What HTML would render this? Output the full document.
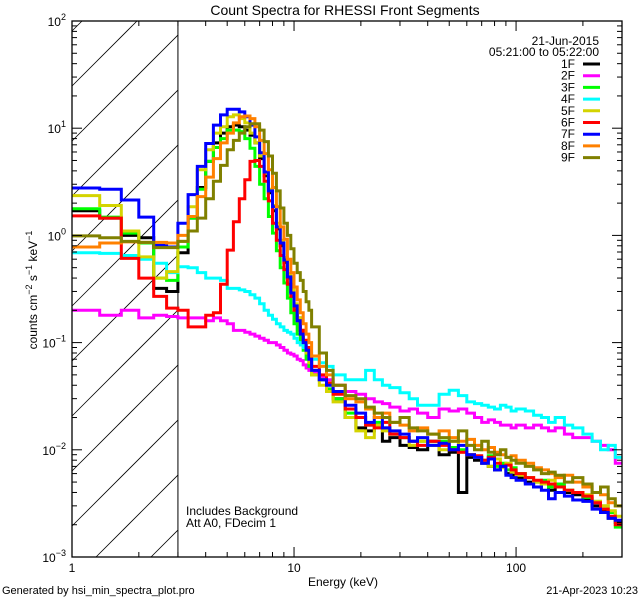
<!DOCTYPE html>
<html><head><meta charset="utf-8"><style>
html,body{margin:0;padding:0;background:#fff;width:640px;height:600px;overflow:hidden;}
svg{display:block;position:absolute;left:0;top:0;font-family:"Liberation Sans","DejaVu Sans",sans-serif;}
</style></head><body>
<svg id="chart" width="640" height="600" viewBox="0 0 640 600" xmlns="http://www.w3.org/2000/svg">
<rect x="0" y="0" width="640" height="600" fill="#fff"/>
<text x="345" y="15" font-size="14" text-anchor="middle">Count Spectra for RHESSI Front Segments</text>
<defs><clipPath id="pclip"><rect x="72" y="21" width="550" height="536"/></clipPath></defs>
<g id="hatch"></g>
<g id="series" clip-path="url(#pclip)"></g>
<g id="axes"></g>
<text x="37" y="290" font-size="12" text-anchor="middle" transform="rotate(-90 37 290)">counts cm<tspan dy="-5" font-size="9">−2</tspan><tspan dy="5"> s</tspan><tspan dy="-5" font-size="9">−1</tspan><tspan dy="5"> keV</tspan><tspan dy="-5" font-size="9">−1</tspan></text>
<text x="343" y="586" font-size="12" text-anchor="middle">Energy (keV)</text>
<text x="186" y="515" font-size="12">Includes Background</text>
<text x="186" y="527" font-size="12">Att A0, FDecim 1</text>
<text x="2" y="594" font-size="11">Generated by hsi_min_spectra_plot.pro</text>
<text x="638" y="594" font-size="11" text-anchor="end">21-Apr-2023 10:23</text>
<text x="599" y="45" font-size="12" text-anchor="end">21-Jun-2015</text>
<text x="599" y="56" font-size="12" text-anchor="end">05:21:00 to 05:22:00</text>
<g id="legend"></g>
</svg>
<script>
const edges = [1,1.333,1.667,2,2.333,2.667,3,
3.333,3.667,4,4.333,4.667,5,5.333,5.667,6,6.333,6.667,7,7.333,7.667,8,8.333,8.667,9,9.333,9.667,10,10.333,10.667,11,11.333,11.667,12,
13,14,15,17,19,21,23,25,27,30,33,36,40,
45,50,55,60,65,70,75,80,85,90,95,100,
110,120,130,140,150,165,180,200,220,240,260,280,300];
const names = ["1F","2F","3F","4F","5F","6F","7F","8F","9F"];
const colors = ["#000000","#ff00ff","#00ff00","#00ffff","#d4d400","#ff0000","#0000ff","#ff8000","#808000"];
const s1F = [1.7,1.45,1.0,0.95,0.32,0.30,
0.69,1.45,2.8,4.9,7.3,9,10.3,10.7,10.3,9.6,8.6,7.3,5.2,3.6,2.5,1.7,1.15,0.8,0.56,0.4,0.3,0.22,0.17,0.13,0.1,0.08,0.07,
0.055,0.045,0.036,0.03,0.02,0.016,0.015,0.017,0.012,0.013,0.011,0.0105,0.01,
0.012,0.009,0.0095,0.004,0.0085,0.008,0.0075,0.007,0.0065,0.0072,0.006,0.0058,
0.0055,0.005,0.0045,0.0048,0.0042,0.0045,0.004,0.0038,0.0035,0.003,0.0027,0.0023,0.0021];
const s2F = [0.2,0.18,0.2,0.17,0.18,0.175,
0.17,0.17,0.17,0.16,0.17,0.16,0.15,0.13,0.13,0.125,0.12,0.115,0.11,0.105,0.1,0.1,0.095,0.09,0.085,0.08,0.078,0.075,0.07,0.068,0.062,0.058,0.055,
0.052,0.048,0.045,0.04,0.035,0.033,0.03,0.028,0.027,0.025,0.023,0.024,0.022,
0.02,0.024,0.023,0.024,0.022,0.02,0.018,0.019,0.018,0.017,0.017,0.016,
0.017,0.016,0.017,0.016,0.015,0.016,0.014,0.013,0.013,0.012,0.011,0.01,0.0075];
const s3F = [1.77,1.48,1.05,0.85,0.40,0.38,
0.78,1.45,2.7,4.9,6.6,8,9.6,9.6,9.3,8,6.5,4.4,3.0,2.2,1.5,1.05,0.72,0.5,0.36,0.26,0.19,0.15,0.12,0.1,0.085,0.07,0.06,
0.05,0.045,0.037,0.03,0.022,0.02,0.017,0.018,0.016,0.014,0.013,0.012,0.012,
0.011,0.012,0.0105,0.01,0.009,0.0085,0.008,0.0088,0.007,0.0075,0.0065,0.0068,
0.006,0.0055,0.005,0.0052,0.0045,0.0048,0.0042,0.004,0.0036,0.0033,0.003,0.0026,0.0019];
const s4F = [0.69,0.68,0.65,0.60,0.55,0.45,
0.51,0.5,0.45,0.40,0.40,0.38,0.32,0.32,0.31,0.3,0.28,0.26,0.23,0.2,0.18,0.165,0.15,0.14,0.13,0.125,0.12,0.11,0.1,0.095,0.09,0.085,0.08,
0.07,0.065,0.06,0.05,0.045,0.045,0.055,0.045,0.04,0.038,0.034,0.03,0.026,
0.026,0.033,0.036,0.032,0.028,0.027,0.026,0.025,0.024,0.026,0.025,0.023,
0.024,0.023,0.021,0.02,0.018,0.02,0.017,0.016,0.014,0.012,0.01,0.011,0.0085];
const s5F = [2.35,1.9,1.1,0.63,0.40,0.46,
0.88,1.85,4.1,6.3,9,10.3,12.8,13.3,12.3,11.2,9,7.3,5.5,3.8,2.7,1.9,1.3,0.9,0.62,0.44,0.31,0.23,0.17,0.13,0.1,0.08,0.065,
0.05,0.04,0.035,0.028,0.02,0.015,0.013,0.017,0.015,0.014,0.013,0.011,0.012,
0.011,0.01,0.012,0.0095,0.009,0.0085,0.0078,0.007,0.0082,0.0068,0.0075,0.0062,
0.0058,0.0055,0.005,0.0048,0.0052,0.0045,0.0042,0.004,0.0038,0.0033,0.003,0.0027,0.0024];
const s6F = [1.52,1.45,0.61,0.40,0.27,0.21,
0.2,0.14,0.14,0.18,0.19,0.35,0.73,1.34,2.2,3.3,4.9,5.0,4.4,3.2,2.1,1.3,0.9,0.65,0.48,0.35,0.27,0.2,0.16,0.13,0.105,0.09,0.075,
0.06,0.05,0.042,0.033,0.024,0.02,0.017,0.016,0.018,0.014,0.013,0.012,0.011,
0.012,0.011,0.01,0.0095,0.009,0.0088,0.008,0.0085,0.0075,0.007,0.0072,0.0065,
0.006,0.0055,0.0052,0.005,0.0048,0.0045,0.0042,0.004,0.0037,0.0032,0.0028,0.0024,0.002];
const s7F = [2.77,2.7,2.14,1.48,0.81,0.78,
1.3,2.4,4.4,7.2,10.7,13.3,15,15,14.2,12.8,10.7,8.3,5.9,3.9,2.6,1.85,1.2,0.85,0.59,0.41,0.29,0.22,0.16,0.12,0.1,0.085,0.07,
0.055,0.045,0.04,0.035,0.026,0.022,0.018,0.02,0.016,0.015,0.014,0.012,0.013,
0.011,0.0115,0.01,0.011,0.009,0.0085,0.0075,0.0082,0.0065,0.007,0.0058,0.0055,
0.0052,0.0048,0.0045,0.0042,0.0035,0.004,0.0037,0.0034,0.0033,0.0028,0.0026,0.0023,0.0022];
const s8F = [0.78,0.85,0.87,0.86,0.86,0.85,
1.0,1.5,2.3,3.5,5.2,7.3,9,11.2,12.8,13,12.3,10.3,7.7,5.8,4.1,2.8,1.85,1.2,0.92,0.6,0.45,0.33,0.25,0.19,0.15,0.12,0.1,
0.075,0.06,0.05,0.04,0.03,0.028,0.024,0.02,0.022,0.018,0.017,0.015,0.016,
0.014,0.015,0.013,0.012,0.0125,0.011,0.01,0.0105,0.0095,0.009,0.0085,0.0088,
0.008,0.0075,0.0068,0.0065,0.006,0.0055,0.0058,0.005,0.0045,0.004,0.0038,0.0032,0.003];
const s9F = [0.99,0.95,0.88,0.86,0.77,0.77,
0.88,1.1,1.45,2.2,3.2,4.5,6.3,7.7,9,10.3,11,11,9.6,7.5,5.5,3.8,2.6,1.8,1.3,1.0,0.75,0.55,0.45,0.38,0.3,0.24,0.2,
0.14,0.08,0.055,0.04,0.032,0.03,0.025,0.022,0.02,0.018,0.02,0.016,0.015,
0.014,0.013,0.012,0.015,0.011,0.01,0.012,0.0095,0.009,0.01,0.0085,0.008,
0.0075,0.007,0.0065,0.006,0.0062,0.0058,0.005,0.0055,0.0048,0.004,0.0045,0.0035,0.003];
const series = [s1F,s2F,s3F,s4F,s5F,s6F,s7F,s8F,s9F];
const yTickExps = [-3,-2,-1,0,1,2];
const xTickLabels = ["1","10","100"];
const xTickVals = [1,10,100];

const X0=72,X1=622,Y0=21,Y1=557;
const xMinL=0,xMaxL=Math.log10(300),yMinL=-3,yMaxL=2;
function xs(v){return X0+(Math.log10(v)-xMinL)/(xMaxL-xMinL)*(X1-X0);}
function ys(v){return Y1-(Math.log10(v)-yMinL)/(yMaxL-yMinL)*(Y1-Y0);}
const NS="http://www.w3.org/2000/svg";
function mk(t,a,p){const e=document.createElementNS(NS,t);for(const k in a)e.setAttribute(k,a[k]);p.appendChild(e);return e;}

const hatch=document.getElementById('hatch');
const HX1=xs(3);
for(let k=-2;k<12;k++){const y0=31+55*k;
 const xa=Math.max(X0,X0+(y0-Y1)), xb=Math.min(HX1,X0+(y0-Y0));
 if(xb<=xa)continue;
 const l=mk('line',{x1:xa,y1:y0-(xa-X0),x2:xb,y2:y0-(xb-X0),stroke:'#000','stroke-width':0.8},hatch);
 
 }
const vl=mk('line',{x1:HX1,y1:Y0,x2:HX1,y2:Y1,stroke:'#000','stroke-width':1},hatch);



const sg=document.getElementById('series');
series.forEach((vals,si)=>{
 let d='';
 for(let i=0;i<vals.length;i++){
  const xa=xs(edges[i]),xb=xs(edges[i+1]),y=ys(vals[i]);
  d+=(i===0?'M':'L')+xa.toFixed(1)+' '+y.toFixed(1)+'L'+xb.toFixed(1)+' '+y.toFixed(1);
 }
 const p=mk('path',{d:d,fill:'none',stroke:colors[si],'stroke-width':3,'stroke-linejoin':'miter'},sg);
 
 
});

const ax=document.getElementById('axes');
const box=mk('rect',{x:X0,y:Y0,width:X1-X0,height:Y1-Y0,fill:'none',stroke:'#000','stroke-width':1.3},ax);


for(let e=-3;e<=2;e++){
 for(let m=1;m<=9;m++){
  if(e===2&&m>1)break;
  const v=m*Math.pow(10,e),y=ys(v),len=m===1?10:5;
  const t1=mk('line',{x1:X0,y1:y,x2:X0+len,y2:y,stroke:'#000'},ax);
  
  
  const t2=mk('line',{x1:X1,y1:y,x2:X1-len,y2:y,stroke:'#000'},ax);
  
  
 }
}
yTickExps.forEach(e=>{
 const y=ys(Math.pow(10,e));
 const t=mk('text',{x:66,y:y+5,'font-size':12,'text-anchor':'end'},ax);
 
 
 t.innerHTML='10<tspan dy="-6" font-size="9">'+(e<0?'−'+(-e):e)+'</tspan>';
});
for(let e=0;e<=2;e++){
 for(let m=1;m<=9;m++){
  const v=m*Math.pow(10,e); if(v>300)break;
  const x=xs(v),len=m===1?10:5;
  const t1=mk('line',{x1:x,y1:Y1,x2:x,y2:Y1-len,stroke:'#000'},ax);
  
  
  const t2=mk('line',{x1:x,y1:Y0,x2:x,y2:Y0+len,stroke:'#000'},ax);
  
  
 }
}
xTickVals.forEach((v,i)=>{
 const t=mk('text',{x:xs(v),y:572,'font-size':12,'text-anchor':'middle'},ax);
 
 
 t.textContent=xTickLabels[i];
});

const lg=document.getElementById('legend');
names.forEach((n,i)=>{
 const y=64+11.7*i;
 const t=mk('text',{x:575,y:y+4,'font-size':12,'text-anchor':'end'},lg);
 
 
 t.textContent=n;
 const l=mk('line',{x1:583,y1:y,x2:600,y2:y,stroke:colors[i],'stroke-width':3},lg);
 
 
});
</script>
</body></html>
